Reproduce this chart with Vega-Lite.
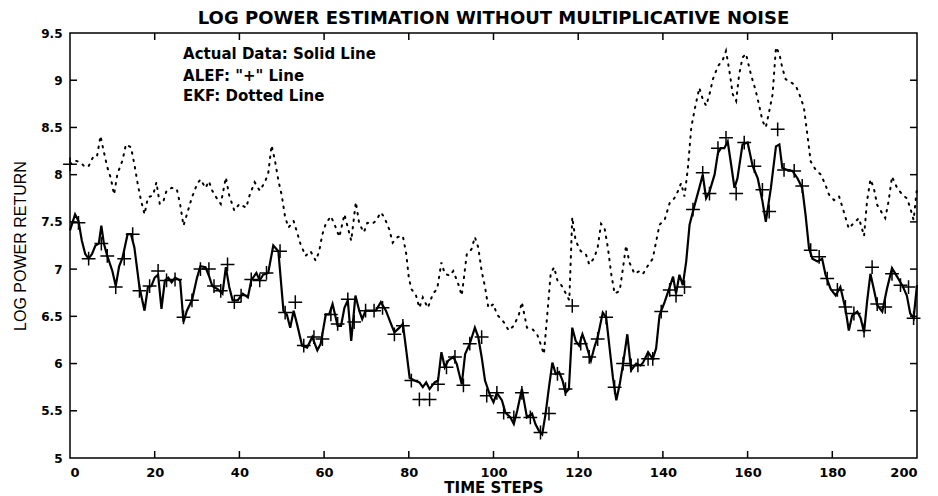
{
  "$schema": "https://vega.github.io/schema/vega-lite/v6.json",
  "width": 847,
  "height": 425,
  "autosize": {"type": "none"},
  "padding": {"left": 70, "top": 33, "right": 21, "bottom": 38},
  "background": "white",
  "config": {"view": {"stroke": "black", "strokeWidth": 1.5}},
  "title": {"text": "LOG POWER ESTIMATION WITHOUT MULTIPLICATIVE NOISE", "font": "DejaVu Sans", "fontSize": 18, "fontWeight": "bold", "color": "black", "offset": -1},
  "datasets": {
    "actual": [
      {"t":0,"v":7.41},{"t":1.2,"v":7.58},{"t":2,"v":7.51},{"t":2.8,"v":7.3},{"t":3.6,"v":7.16},{"t":4.4,"v":7.11},{"t":5.2,"v":7.16},{"t":6,"v":7.25},{"t":6.8,"v":7.27},{"t":7.4,"v":7.46},{"t":8,"v":7.27},{"t":8.8,"v":7.14},{"t":10,"v":6.98},{"t":10.8,"v":6.82},{"t":11.6,"v":7.03},{"t":12.4,"v":7.12},{"t":13.6,"v":7.37},{"t":14.4,"v":7.37},{"t":15.2,"v":7.23},{"t":16.4,"v":6.81},{"t":17.6,"v":6.56},{"t":18.4,"v":6.81},{"t":19.2,"v":6.82},{"t":20,"v":6.91},{"t":20.8,"v":6.94},{"t":21.6,"v":6.58},{"t":22.4,"v":6.88},{"t":23.2,"v":6.91},{"t":24,"v":6.86},{"t":24.8,"v":6.91},{"t":26,"v":6.88},{"t":26.8,"v":6.44},{"t":27.6,"v":6.56},{"t":28.8,"v":6.67},{"t":30,"v":6.91},{"t":30.8,"v":7.03},{"t":32,"v":7.02},{"t":32.8,"v":6.93},{"t":33.6,"v":6.82},{"t":34.8,"v":6.79},{"t":36,"v":6.74},{"t":36.8,"v":7.02},{"t":37.6,"v":6.81},{"t":38.4,"v":6.67},{"t":39.6,"v":6.67},{"t":40.8,"v":6.74},{"t":42,"v":6.7},{"t":42.8,"v":6.88},{"t":44,"v":6.96},{"t":44.8,"v":6.88},{"t":45.6,"v":6.94},{"t":46.8,"v":6.96},{"t":48,"v":7.25},{"t":49.2,"v":7.19},{"t":50.4,"v":6.56},{"t":51.2,"v":6.52},{"t":52,"v":6.38},{"t":52.8,"v":6.56},{"t":53.6,"v":6.42},{"t":54.8,"v":6.19},{"t":56,"v":6.17},{"t":57.2,"v":6.28},{"t":58.4,"v":6.14},{"t":59.2,"v":6.21},{"t":60.4,"v":6.52},{"t":61.2,"v":6.52},{"t":62,"v":6.63},{"t":63.2,"v":6.4},{"t":64,"v":6.4},{"t":64.8,"v":6.59},{"t":65.6,"v":6.67},{"t":66.4,"v":6.24},{"t":67.4,"v":6.72},{"t":68.3,"v":6.56},{"t":69,"v":6.47},{"t":69.8,"v":6.56},{"t":71,"v":6.56},{"t":72.2,"v":6.56},{"t":73.4,"v":6.65},{"t":74.6,"v":6.56},{"t":75.8,"v":6.42},{"t":76.6,"v":6.33},{"t":77.8,"v":6.38},{"t":78.6,"v":6.42},{"t":79.4,"v":6.14},{"t":80.2,"v":5.85},{"t":81.3,"v":5.82},{"t":82.5,"v":5.8},{"t":83.3,"v":5.75},{"t":84.1,"v":5.8},{"t":84.9,"v":5.73},{"t":86.1,"v":5.8},{"t":86.9,"v":5.82},{"t":87.7,"v":6.12},{"t":88.5,"v":5.96},{"t":89.3,"v":6.03},{"t":90.5,"v":6.07},{"t":91.3,"v":6.0},{"t":92.5,"v":5.78},{"t":93.3,"v":6.1},{"t":94.4,"v":6.21},{"t":95.6,"v":6.38},{"t":96.4,"v":6.28},{"t":97.2,"v":6.07},{"t":98,"v":5.82},{"t":99.2,"v":5.66},{"t":100,"v":5.59},{"t":100.8,"v":5.69},{"t":102,"v":5.61},{"t":102.8,"v":5.48},{"t":104,"v":5.43},{"t":104.8,"v":5.36},{"t":105.6,"v":5.5},{"t":106.7,"v":5.73},{"t":107.9,"v":5.43},{"t":109.1,"v":5.47},{"t":109.9,"v":5.36},{"t":110.7,"v":5.29},{"t":111.5,"v":5.25},{"t":112.3,"v":5.47},{"t":113.1,"v":5.75},{"t":113.9,"v":6.01},{"t":114.7,"v":5.89},{"t":115.5,"v":5.91},{"t":116.3,"v":5.82},{"t":117,"v":5.69},{"t":117.8,"v":5.73},{"t":118.6,"v":6.38},{"t":119.4,"v":6.24},{"t":120.2,"v":6.19},{"t":121,"v":6.31},{"t":121.8,"v":6.21},{"t":123,"v":6.03},{"t":123.8,"v":6.17},{"t":124.6,"v":6.28},{"t":125.8,"v":6.54},{"t":126.6,"v":6.49},{"t":127.4,"v":6.17},{"t":128.2,"v":5.85},{"t":129,"v":5.61},{"t":129.8,"v":5.78},{"t":130.6,"v":6.0},{"t":131.6,"v":6.31},{"t":132.5,"v":5.93},{"t":133.7,"v":6.0},{"t":134.7,"v":5.98},{"t":135.3,"v":6.01},{"t":136.5,"v":6.12},{"t":137.6,"v":6.05},{"t":138.4,"v":6.16},{"t":139.2,"v":6.51},{"t":140.4,"v":6.65},{"t":141.6,"v":6.81},{"t":142.4,"v":6.92},{"t":143.1,"v":6.74},{"t":143.9,"v":6.94},{"t":144.7,"v":6.83},{"t":145.5,"v":7.08},{"t":146.3,"v":7.47},{"t":147.5,"v":7.68},{"t":148.6,"v":7.86},{"t":149.4,"v":8.0},{"t":150.2,"v":7.75},{"t":151,"v":7.82},{"t":152.2,"v":8.0},{"t":153,"v":8.23},{"t":153.7,"v":8.28},{"t":154.5,"v":8.28},{"t":155.3,"v":8.35},{"t":156.1,"v":8.11},{"t":156.9,"v":7.86},{"t":157.6,"v":7.96},{"t":158.8,"v":8.32},{"t":160,"v":8.34},{"t":161.2,"v":8.09},{"t":162.4,"v":7.96},{"t":163.5,"v":7.72},{"t":164.3,"v":7.5},{"t":165.5,"v":7.86},{"t":166.7,"v":8.3},{"t":167.5,"v":8.32},{"t":168.2,"v":8.07},{"t":169.4,"v":8.05},{"t":170.6,"v":8.04},{"t":171.8,"v":7.96},{"t":172.9,"v":7.86},{"t":173.7,"v":7.57},{"t":174.5,"v":7.22},{"t":175.3,"v":7.11},{"t":176.5,"v":7.08},{"t":177.6,"v":7.11},{"t":178.4,"v":6.94},{"t":179.6,"v":6.79},{"t":180.8,"v":6.72},{"t":181.9,"v":6.81},{"t":183.1,"v":6.58},{"t":183.9,"v":6.35},{"t":184.7,"v":6.51},{"t":185.9,"v":6.55},{"t":186.7,"v":6.48},{"t":187.5,"v":6.33},{"t":188.2,"v":6.65},{"t":189,"v":6.95},{"t":189.8,"v":6.79},{"t":190.6,"v":6.62},{"t":191.8,"v":6.55},{"t":192.9,"v":6.79},{"t":194.1,"v":7.01},{"t":195.3,"v":6.92},{"t":196.5,"v":6.83},{"t":197.6,"v":6.72},{"t":198.4,"v":6.53},{"t":199.2,"v":6.48},{"t":200,"v":6.83}
    ],
    "ekf": [
      {"t":0,"v":8.11},{"t":1.2,"v":8.15},{"t":2.4,"v":8.13},{"t":3.6,"v":8.08},{"t":4.4,"v":8.09},{"t":5.6,"v":8.2},{"t":6.4,"v":8.2},{"t":7.2,"v":8.41},{"t":8,"v":8.24},{"t":8.8,"v":8.08},{"t":9.6,"v":7.97},{"t":10.4,"v":7.79},{"t":11.2,"v":8.01},{"t":12.4,"v":8.15},{"t":13.2,"v":8.32},{"t":14.4,"v":8.29},{"t":15.2,"v":8.11},{"t":16,"v":7.9},{"t":16.8,"v":7.72},{"t":17.6,"v":7.58},{"t":18.4,"v":7.76},{"t":19.6,"v":7.78},{"t":20.4,"v":7.92},{"t":21.2,"v":7.69},{"t":22,"v":7.71},{"t":22.8,"v":7.83},{"t":24,"v":7.86},{"t":25.2,"v":7.85},{"t":26,"v":7.69},{"t":26.8,"v":7.46},{"t":27.6,"v":7.58},{"t":28.8,"v":7.76},{"t":30,"v":7.9},{"t":30.8,"v":7.95},{"t":32,"v":7.86},{"t":32.8,"v":7.93},{"t":33.6,"v":7.83},{"t":34.8,"v":7.74},{"t":35.6,"v":7.69},{"t":36.8,"v":7.97},{"t":37.6,"v":7.78},{"t":38.8,"v":7.62},{"t":40,"v":7.69},{"t":41.6,"v":7.65},{"t":42.4,"v":7.78},{"t":43.6,"v":7.92},{"t":44.8,"v":7.83},{"t":46,"v":7.92},{"t":46.8,"v":8.01},{"t":47.6,"v":8.31},{"t":48.4,"v":8.15},{"t":49.2,"v":7.94},{"t":50,"v":7.78},{"t":50.8,"v":7.55},{"t":51.6,"v":7.44},{"t":52.8,"v":7.51},{"t":53.6,"v":7.39},{"t":54.4,"v":7.27},{"t":55.6,"v":7.14},{"t":56.8,"v":7.19},{"t":58,"v":7.09},{"t":58.8,"v":7.18},{"t":59.6,"v":7.37},{"t":60.4,"v":7.48},{"t":61.6,"v":7.56},{"t":62.4,"v":7.48},{"t":63.6,"v":7.34},{"t":64.8,"v":7.58},{"t":65.6,"v":7.44},{"t":66.4,"v":7.3},{"t":67.5,"v":7.71},{"t":68.3,"v":7.48},{"t":69.4,"v":7.39},{"t":70.2,"v":7.49},{"t":71.4,"v":7.48},{"t":72.2,"v":7.51},{"t":73.4,"v":7.6},{"t":74.2,"v":7.55},{"t":75.4,"v":7.42},{"t":76.2,"v":7.28},{"t":77.4,"v":7.34},{"t":78.6,"v":7.35},{"t":79.4,"v":7.16},{"t":80,"v":6.91},{"t":80.6,"v":6.79},{"t":81.7,"v":6.72},{"t":82.5,"v":6.59},{"t":83.3,"v":6.7},{"t":84.5,"v":6.59},{"t":85.7,"v":6.74},{"t":86.7,"v":6.79},{"t":87.7,"v":7.07},{"t":88.5,"v":6.95},{"t":89.7,"v":6.93},{"t":90.5,"v":6.98},{"t":91.7,"v":6.84},{"t":92.5,"v":6.72},{"t":93.7,"v":7.16},{"t":94.8,"v":7.21},{"t":95.6,"v":7.34},{"t":96.4,"v":7.23},{"t":97.2,"v":6.98},{"t":98,"v":6.81},{"t":98.8,"v":6.59},{"t":100,"v":6.63},{"t":100.8,"v":6.52},{"t":102.4,"v":6.44},{"t":103.6,"v":6.35},{"t":104.8,"v":6.4},{"t":106,"v":6.52},{"t":106.7,"v":6.65},{"t":107.9,"v":6.38},{"t":109.1,"v":6.37},{"t":110.3,"v":6.31},{"t":111.1,"v":6.21},{"t":111.9,"v":6.1},{"t":112.7,"v":6.52},{"t":113.5,"v":6.95},{"t":114.3,"v":7.02},{"t":115.1,"v":6.88},{"t":115.9,"v":6.84},{"t":117.1,"v":6.74},{"t":117.9,"v":6.67},{"t":118.6,"v":7.55},{"t":119.4,"v":7.3},{"t":120.6,"v":7.19},{"t":121.8,"v":7.16},{"t":122.6,"v":7.05},{"t":123.8,"v":7.12},{"t":124.6,"v":7.23},{"t":125.4,"v":7.48},{"t":126.2,"v":7.44},{"t":127,"v":7.23},{"t":127.8,"v":6.95},{"t":128.6,"v":6.74},{"t":129.8,"v":6.77},{"t":130.6,"v":7.02},{"t":131.3,"v":7.25},{"t":132.1,"v":7.07},{"t":133.3,"v":6.95},{"t":134.5,"v":6.98},{"t":135.3,"v":6.95},{"t":136.5,"v":7.04},{"t":137.6,"v":7.11},{"t":138.4,"v":7.29},{"t":139.2,"v":7.47},{"t":140.4,"v":7.52},{"t":141.6,"v":7.7},{"t":142.7,"v":7.75},{"t":143.5,"v":7.82},{"t":144.3,"v":7.91},{"t":145.1,"v":7.77},{"t":145.9,"v":8.07},{"t":146.7,"v":8.5},{"t":147.5,"v":8.69},{"t":148.6,"v":8.92},{"t":149.4,"v":8.8},{"t":150.2,"v":8.73},{"t":151,"v":8.85},{"t":151.8,"v":9.01},{"t":153,"v":9.15},{"t":154.1,"v":9.21},{"t":154.9,"v":9.31},{"t":155.7,"v":9.1},{"t":156.5,"v":8.85},{"t":157.3,"v":8.78},{"t":158,"v":9.06},{"t":158.8,"v":9.24},{"t":159.6,"v":9.28},{"t":160.8,"v":9.06},{"t":161.9,"v":8.89},{"t":162.7,"v":8.74},{"t":163.5,"v":8.57},{"t":164.3,"v":8.5},{"t":165.1,"v":8.67},{"t":165.9,"v":8.85},{"t":166.7,"v":9.35},{"t":167.5,"v":9.28},{"t":168.2,"v":9.13},{"t":169,"v":9.01},{"t":170.2,"v":8.98},{"t":171.4,"v":8.94},{"t":172.5,"v":8.82},{"t":173.3,"v":8.71},{"t":174.1,"v":8.43},{"t":174.9,"v":8.14},{"t":176.1,"v":8.05},{"t":177.3,"v":8.0},{"t":178.4,"v":7.89},{"t":179.2,"v":7.79},{"t":180.4,"v":7.73},{"t":181.6,"v":7.77},{"t":182.7,"v":7.61},{"t":183.9,"v":7.43},{"t":185.1,"v":7.49},{"t":186.3,"v":7.54},{"t":187.5,"v":7.35},{"t":188.2,"v":7.72},{"t":189,"v":7.95},{"t":189.8,"v":7.86},{"t":190.6,"v":7.68},{"t":191.8,"v":7.59},{"t":192.5,"v":7.54},{"t":193.3,"v":7.72},{"t":194.1,"v":7.98},{"t":195.3,"v":7.86},{"t":196.5,"v":7.79},{"t":197.6,"v":7.75},{"t":198.4,"v":7.65},{"t":199.2,"v":7.52},{"t":200,"v":7.86}
    ],
    "alef": [
      {"t":0,"v":8.11},{"t":2,"v":7.49},{"t":4.4,"v":7.11},{"t":7.4,"v":7.27},{"t":8.8,"v":7.14},{"t":10.8,"v":6.81},{"t":12.8,"v":7.11},{"t":14.8,"v":7.37},{"t":16.4,"v":6.77},{"t":18.8,"v":6.82},{"t":20.8,"v":6.98},{"t":22.8,"v":6.88},{"t":24.8,"v":6.89},{"t":26.8,"v":6.49},{"t":28.8,"v":6.67},{"t":30.8,"v":7.0},{"t":32.8,"v":7.0},{"t":34,"v":6.82},{"t":35.6,"v":6.77},{"t":37.2,"v":7.05},{"t":38.8,"v":6.65},{"t":40.4,"v":6.72},{"t":42.8,"v":6.89},{"t":44.8,"v":6.88},{"t":46.4,"v":6.96},{"t":49.6,"v":7.19},{"t":50.8,"v":6.54},{"t":53.2,"v":6.65},{"t":55.2,"v":6.19},{"t":57.6,"v":6.28},{"t":59.6,"v":6.26},{"t":61.6,"v":6.52},{"t":63.2,"v":6.42},{"t":65.6,"v":6.68},{"t":67.1,"v":6.44},{"t":69.8,"v":6.56},{"t":71.8,"v":6.56},{"t":73.8,"v":6.59},{"t":76.6,"v":6.31},{"t":78.6,"v":6.4},{"t":80.6,"v":5.82},{"t":82.5,"v":5.62},{"t":84.9,"v":5.62},{"t":86.9,"v":5.78},{"t":88.9,"v":5.96},{"t":90.9,"v":6.07},{"t":92.9,"v":5.77},{"t":94.4,"v":6.21},{"t":97.2,"v":6.28},{"t":98.4,"v":5.66},{"t":100.8,"v":5.69},{"t":102.4,"v":5.48},{"t":104.8,"v":5.43},{"t":106.7,"v":5.69},{"t":108.7,"v":5.43},{"t":111.1,"v":5.27},{"t":113.1,"v":5.47},{"t":115.1,"v":5.89},{"t":117,"v":5.73},{"t":118.6,"v":6.61},{"t":120.6,"v":6.21},{"t":122.6,"v":6.07},{"t":124.6,"v":6.26},{"t":126.6,"v":6.49},{"t":128.6,"v":5.75},{"t":130.6,"v":6.0},{"t":132.5,"v":5.98},{"t":134.1,"v":5.98},{"t":136.5,"v":6.05},{"t":137.6,"v":6.05},{"t":139.6,"v":6.55},{"t":141.6,"v":6.78},{"t":143.1,"v":6.72},{"t":145.1,"v":6.81},{"t":147.1,"v":7.63},{"t":149.4,"v":8.02},{"t":151,"v":7.8},{"t":153,"v":8.28},{"t":154.9,"v":8.39},{"t":157.3,"v":7.8},{"t":159.2,"v":8.34},{"t":161.6,"v":8.09},{"t":163.5,"v":7.84},{"t":165.1,"v":7.61},{"t":167.1,"v":8.48},{"t":168.6,"v":8.05},{"t":171,"v":8.04},{"t":172.9,"v":7.88},{"t":174.9,"v":7.2},{"t":176.9,"v":7.13},{"t":178.8,"v":6.9},{"t":181.2,"v":6.78},{"t":183.1,"v":6.6},{"t":185.1,"v":6.53},{"t":187.5,"v":6.35},{"t":189.4,"v":7.02},{"t":190.6,"v":6.63},{"t":192.5,"v":6.6},{"t":194.1,"v":6.95},{"t":196.1,"v":6.83},{"t":198,"v":6.81},{"t":199.2,"v":6.48}
    ],
    "notes": [
      {"t":26.7,"v":9.28,"label":"Actual Data: Solid Line"},
      {"t":26.7,"v":9.05,"label":"ALEF: \"+\" Line"},
      {"t":26.7,"v":8.83,"label":"EKF: Dotted Line"}
    ],
    "xticks": [{"t":20},{"t":40},{"t":60},{"t":80},{"t":100},{"t":120},{"t":140},{"t":160},{"t":180}],
    "yticks": [{"v":5.5},{"v":6},{"v":6.5},{"v":7},{"v":7.5},{"v":8},{"v":8.5},{"v":9}]
  },
  "layer": [
    {
      "data": {"name": "ekf"},
      "mark": {"type": "line", "color": "black", "strokeWidth": 2, "strokeDash": [1.5, 6], "strokeCap": "round"},
      "encoding": {
        "x": {"field": "t", "type": "quantitative", "scale": {"domain": [0, 200], "nice": false, "zero": false},
          "axis": {"orient": "bottom", "values": [0,20,40,60,80,100,120,140,160,180,200], "format": "d", "grid": false, "domain": false, "ticks": false, "labelFont": "DejaVu Sans", "labelFontWeight": "bold", "labelFontSize": 13, "labelColor": "black", "labelPadding": 8, "title": "TIME STEPS", "titleFont": "DejaVu Sans", "titleFontWeight": "bold", "titleFontSize": 15, "titleColor": "black", "titlePadding": 1}},
        "y": {"field": "v", "type": "quantitative", "scale": {"domain": [5, 9.5], "nice": false, "zero": false},
          "axis": {"orient": "left", "values": [5,5.5,6,6.5,7,7.5,8,8.5,9,9.5], "format": "~g", "grid": false, "domain": false, "ticks": false, "labelFont": "DejaVu Sans", "labelFontWeight": "bold", "labelFontSize": 12, "labelColor": "black", "labelPadding": 8, "title": "LOG POWER RETURN", "titleFont": "Liberation Sans Narrow, Liberation Sans", "titleFontWeight": "normal", "titleFontSize": 16, "titleColor": "black", "titlePadding": 12}}
      }
    },
    {
      "data": {"name": "actual"},
      "mark": {"type": "line", "color": "black", "strokeWidth": 2.2},
      "encoding": {
        "x": {"field": "t", "type": "quantitative"},
        "y": {"field": "v", "type": "quantitative"}
      }
    },
    {
      "data": {"name": "alef"},
      "mark": {"type": "point", "shape": "M-1,0H1M0,-1V1", "filled": false, "stroke": "black", "strokeWidth": 1.5, "size": 190, "opacity": 1},
      "encoding": {
        "x": {"field": "t", "type": "quantitative"},
        "y": {"field": "v", "type": "quantitative"}
      }
    },
    {
      "data": {"name": "notes"},
      "mark": {"type": "text", "align": "left", "baseline": "middle", "font": "DejaVu Sans", "fontWeight": "bold", "fontSize": 15, "color": "black"},
      "encoding": {
        "x": {"field": "t", "type": "quantitative"},
        "y": {"field": "v", "type": "quantitative"},
        "text": {"field": "label"}
      }
    },
    {
      "data": {"name": "xticks"},
      "mark": {"type": "point", "shape": "M0,0V-1", "filled": false, "stroke": "black", "strokeWidth": 1.5, "size": 196, "opacity": 1},
      "encoding": {
        "x": {"field": "t", "type": "quantitative"},
        "y": {"datum": 5, "type": "quantitative"}
      }
    },
    {
      "data": {"name": "xticks"},
      "mark": {"type": "point", "shape": "M0,0V1", "filled": false, "stroke": "black", "strokeWidth": 1.5, "size": 196, "opacity": 1},
      "encoding": {
        "x": {"field": "t", "type": "quantitative"},
        "y": {"datum": 9.5, "type": "quantitative"}
      }
    },
    {
      "data": {"name": "yticks"},
      "mark": {"type": "point", "shape": "M0,0H1", "filled": false, "stroke": "black", "strokeWidth": 1.5, "size": 196, "opacity": 1},
      "encoding": {
        "x": {"datum": 0, "type": "quantitative"},
        "y": {"field": "v", "type": "quantitative"}
      }
    },
    {
      "data": {"name": "yticks"},
      "mark": {"type": "point", "shape": "M0,0H-1", "filled": false, "stroke": "black", "strokeWidth": 1.5, "size": 196, "opacity": 1},
      "encoding": {
        "x": {"datum": 200, "type": "quantitative"},
        "y": {"field": "v", "type": "quantitative"}
      }
    }
  ]
}
